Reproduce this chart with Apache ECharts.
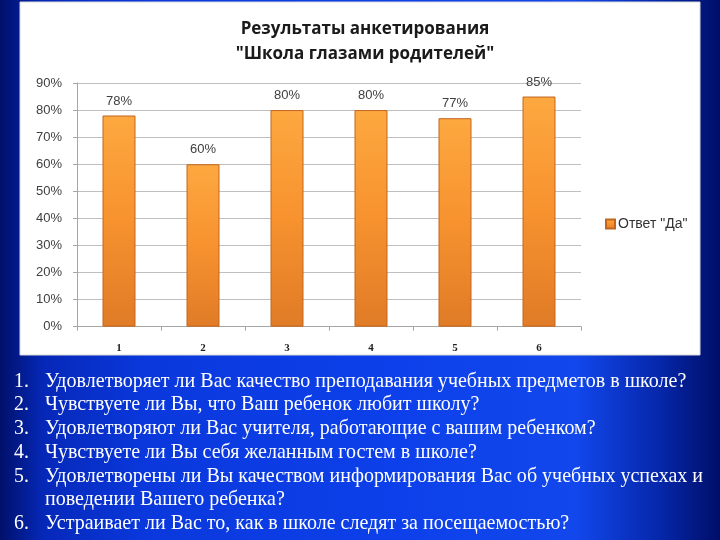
<!DOCTYPE html>
<html>
<head>
<meta charset="utf-8">
<script src="https://cdn.jsdelivr.net/npm/echarts@6/dist/echarts.min.js"></script>
<style>
html,body{margin:0;padding:0;width:720px;height:540px;overflow:hidden;background:#0a2fd0;}
#c{width:720px;height:540px;}
</style>
</head>
<body>
<div id="c"></div>
<script>
const categories = ['1', '2', '3', '4', '5', '6'];
const yesValues = [78, 60, 80, 80, 77, 85];
const seriesName = 'Ответ "Да"';
const titleLines = ['Результаты анкетирования', '"Школа глазами родителей"'];
const questionNumbers = ['1.', '2.', '3.', '4.', '5.', '', '6.'];
const questionLines = [
  'Удовлетворяет ли Вас качество преподавания учебных предметов в школе?',
  'Чувствуете ли Вы, что Ваш ребенок любит школу?',
  'Удовлетворяют ли Вас учителя, работающие с вашим ребенком?',
  'Чувствуете ли Вы себя желанным гостем в школе?',
  'Удовлетворены ли Вы качеством информирования Вас об учебных успехах и',
  'поведении Вашего ребенка?',
  'Устраивает ли Вас то, как в школе следят за посещаемостью?'
];

const chart = echarts.init(document.getElementById('c'), null, {renderer: 'canvas'});

const textFont = '"Liberation Serif", "Times New Roman", serif';
const lineTop = 381, lineStep = 23.7;
const graphics = [
  {
    type: 'rect', z: -10, silent: true,
    shape: {x: 0, y: 0, width: 720, height: 540},
    style: {
      fill: new echarts.graphic.LinearGradient(0, 0, 1, 0, [
        {offset: 0, color: '#00106a'},
        {offset: 0.06, color: '#0628b8'},
        {offset: 0.2, color: '#0a38dc'},
        {offset: 0.55, color: '#0d40ea'},
        {offset: 0.8, color: '#1247ec'},
        {offset: 0.92, color: '#0526a8'},
        {offset: 1, color: '#000e68'}
      ])
    }
  },
  {
    type: 'rect', z: -9, silent: true,
    shape: {x: 20, y: 2, width: 680, height: 353},
    style: {fill: '#ffffff', stroke: '#d9d9d9', lineWidth: 1}
  }
];
questionLines.forEach((t, i) => {
  const y = lineTop + i * lineStep;
  if (questionNumbers[i]) {
    graphics.push({
      type: 'text', silent: true, x: 14, y: y, scaleX: 0.9,
      style: {text: questionNumbers[i], fill: '#ffffff', font: '22px ' + textFont, verticalAlign: 'middle', align: 'left'}
    });
  }
  graphics.push({
    type: 'text', silent: true, x: 45, y: y, scaleX: 0.91,
    style: {text: t, fill: '#ffffff', font: '22px ' + textFont, verticalAlign: 'middle', align: 'left'}
  });
});

chart.setOption({
  animation: false,
  title: {
    text: titleLines.join('\n'),
    left: 360, top: 11.5, textAlign: 'center',
    textStyle: {fontFamily: '"Open Sans", "Liberation Sans", sans-serif', fontSize: 17, fontWeight: 'bold', color: '#1a1a1a', lineHeight: 25}
  },
  legend: {
    data: [seriesName],
    left: 600, top: 212,
    itemWidth: 9, itemHeight: 9, itemGap: 4,
    icon: 'rect',
    textStyle: {fontFamily: '"Liberation Sans", sans-serif', fontSize: 14, color: '#333333', padding: [0, 0, 0, -2]}
  },
  grid: {left: 77, right: 139, top: 83, bottom: 213.3, containLabel: false},
  xAxis: {
    type: 'category',
    data: categories,
    boundaryGap: true,
    axisLine: {show: true, lineStyle: {color: '#a6a6a6'}},
    axisTick: {show: true, alignWithLabel: false, length: 4, lineStyle: {color: '#a6a6a6'}},
    axisLabel: {margin: 16, fontFamily: '"Liberation Serif", serif', fontWeight: 'bold', fontSize: 11, color: '#222222'}
  },
  yAxis: {
    type: 'value',
    min: 0, max: 90, interval: 10,
    axisLine: {show: true, lineStyle: {color: '#a6a6a6'}},
    axisTick: {show: true, length: 4, lineStyle: {color: '#a6a6a6'}},
    splitLine: {show: true, lineStyle: {color: '#bfbfbf'}},
    axisLabel: {formatter: '{value}%', margin: 15, fontFamily: '"Liberation Sans", sans-serif', fontSize: 13, color: '#404040'}
  },
  series: [{
    name: seriesName,
    type: 'bar',
    data: yesValues,
    barWidth: 33,
    itemStyle: {
      color: new echarts.graphic.LinearGradient(0, 0, 0, 1, [
        {offset: 0, color: '#fda840'},
        {offset: 0.5, color: '#f7922f'},
        {offset: 1, color: '#e07b27'}
      ]),
      borderColor: '#c2661e',
      borderWidth: 1
    },
    label: {
      show: true, position: 'top', distance: 8,
      formatter: '{c}%',
      fontFamily: '"Liberation Sans", sans-serif', fontSize: 13, color: '#404040'
    }
  }],
  graphic: graphics
});
</script>
</body>
</html>
